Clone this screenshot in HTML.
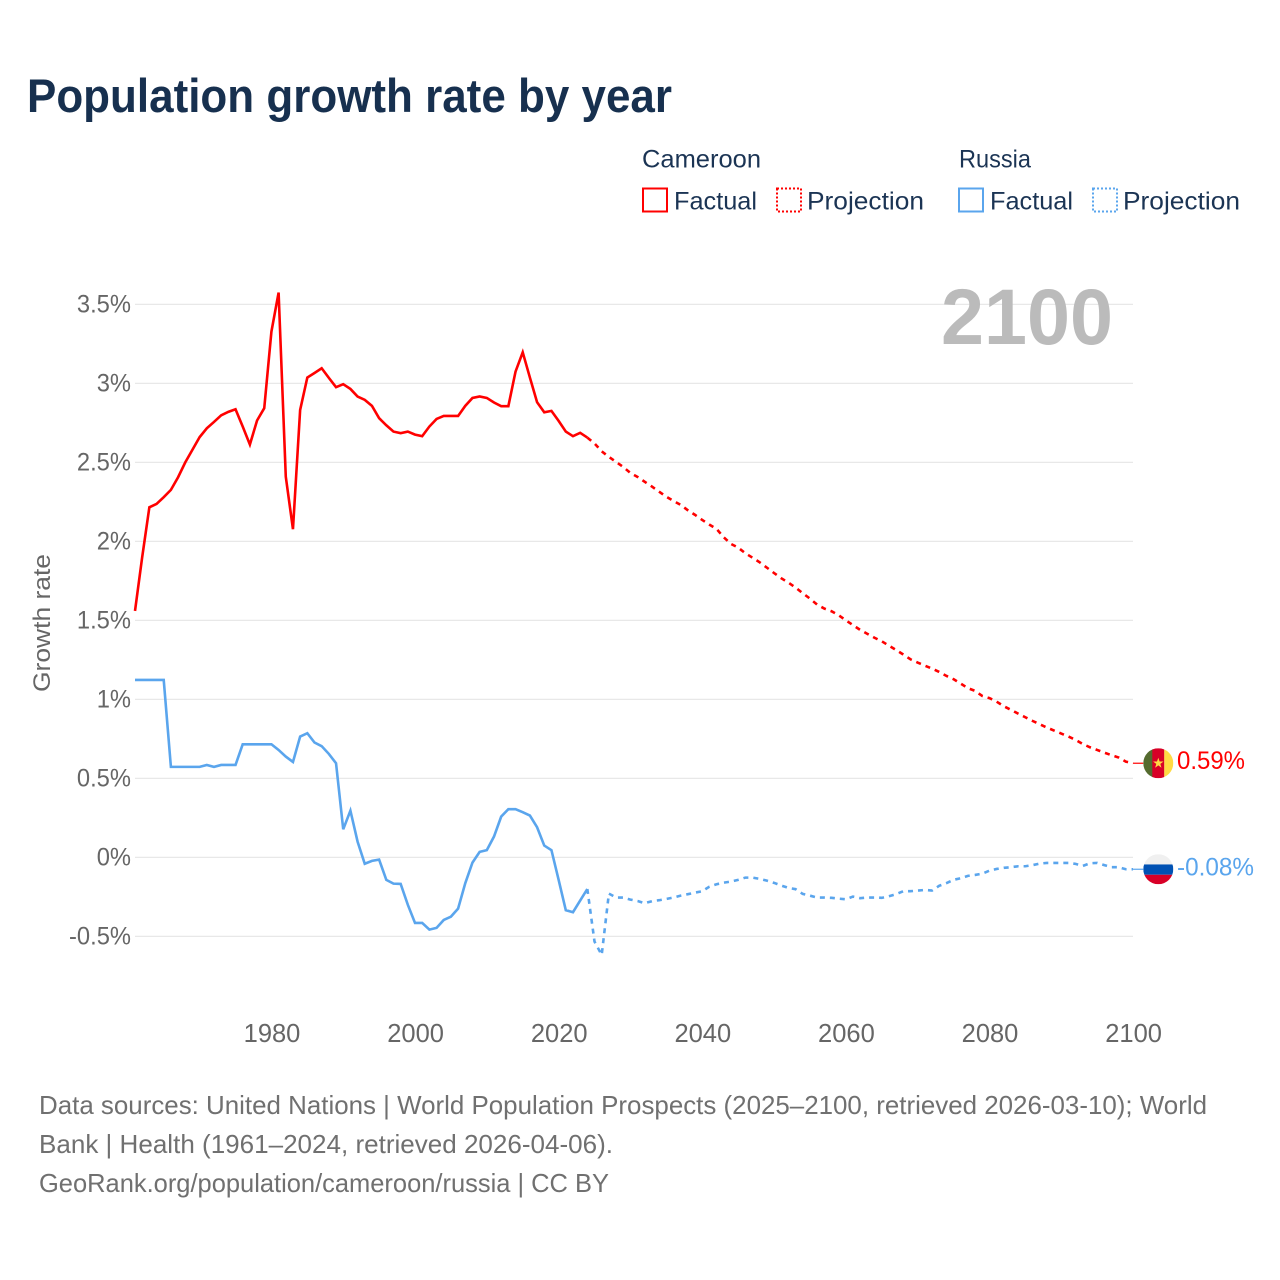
<!DOCTYPE html>
<html lang="en">
<head>
<meta charset="utf-8">
<title>Population growth rate by year</title>
<style>
html,body{margin:0;padding:0;background:#fff;}
body{width:1280px;height:1280px;overflow:hidden;}
svg{display:block;font-family:"Liberation Sans",sans-serif;}
</style>
</head>
<body>
<svg id="chart" xmlns="http://www.w3.org/2000/svg" width="1280" height="1280" viewBox="0 0 1280 1280">
  <defs>
    <clipPath id="clip-flag-cm"><circle cx="0" cy="0" r="15"/></clipPath>
    <clipPath id="clip-flag-ru"><circle cx="0" cy="0" r="15"/></clipPath>
  </defs>
  <rect width="1280" height="1280" fill="#ffffff"/>
  <text x="27" y="112" font-size="47" font-weight="700" fill="#17304f" textLength="645" lengthAdjust="spacingAndGlyphs">Population growth rate by year</text>

  <g font-size="25" fill="#1b3454">
    <text x="642" y="167.500" textLength="119" lengthAdjust="spacingAndGlyphs">Cameroon</text>
    <text x="959" y="167.500" textLength="72" lengthAdjust="spacingAndGlyphs">Russia</text>
    <g>
      <rect x="643" y="188.500" width="24" height="23" fill="none" stroke="#ff0000" stroke-width="2"/>
      <text x="674" y="209.500" textLength="83" lengthAdjust="spacingAndGlyphs">Factual</text>
    </g>
    <g>
      <rect x="777" y="188.500" width="24" height="23" fill="none" stroke="#ff0000" stroke-width="2" stroke-dasharray="2,2"/>
      <text x="807" y="209.500" textLength="117" lengthAdjust="spacingAndGlyphs">Projection</text>
    </g>
    <g>
      <rect x="959" y="188.500" width="24" height="23" fill="none" stroke="#5aa5ed" stroke-width="2"/>
      <text x="990" y="209.500" textLength="83" lengthAdjust="spacingAndGlyphs">Factual</text>
    </g>
    <g>
      <rect x="1093" y="188.500" width="24" height="23" fill="none" stroke="#5aa5ed" stroke-width="2" stroke-dasharray="2,2"/>
      <text x="1123" y="209.500" textLength="117" lengthAdjust="spacingAndGlyphs">Projection</text>
    </g>
  </g>

  <g id="grid"></g>
  <g id="y-ticks" font-size="25" fill="#666666" text-anchor="end"></g>
  <g id="x-ticks" font-size="25.500" fill="#666666" text-anchor="middle"></g>
  <text transform="translate(50,623) rotate(-90)" font-size="24.500" fill="#666666" text-anchor="middle" textLength="138" lengthAdjust="spacingAndGlyphs">Growth rate</text>
  <text x="941" y="344" font-size="79" font-weight="700" fill="#bbbbbb" textLength="172" lengthAdjust="spacingAndGlyphs">2100</text>

  <g id="series"></g>

  <g id="end-markers"></g>

  <g font-size="26" fill="#707070">
    <text x="39" y="1114" textLength="1168" lengthAdjust="spacingAndGlyphs">Data sources: United Nations | World Population Prospects (2025–2100, retrieved 2026-03-10); World</text>
    <text x="39" y="1153" textLength="574" lengthAdjust="spacingAndGlyphs">Bank | Health (1961–2024, retrieved 2026-04-06).</text>
    <text x="39" y="1192" textLength="570" lengthAdjust="spacingAndGlyphs">GeoRank.org/population/cameroon/russia | CC BY</text>
  </g>
</svg>

<script>
const factualStartYear = 1961;
const projectionStartYear = 2024;
const yTickValues = [3.5, 3, 2.5, 2, 1.5, 1, 0.5, 0, -0.5];
const yTickLabels = ["3.5%", "3%", "2.5%", "2%", "1.5%", "1%", "0.5%", "0%", "-0.5%"];
const xTickValues = [1980, 2000, 2020, 2040, 2060, 2080, 2100];
const xTickLabels = ["1980", "2000", "2020", "2040", "2060", "2080", "2100"];

const cameroonFactual = [
  1.56, 1.9, 2.216, 2.237, 2.28, 2.326, 2.406, 2.5, 2.58, 2.66,
  2.716, 2.756, 2.798, 2.82, 2.836, 2.727, 2.613, 2.765, 2.843, 3.328,
  3.575, 2.41, 2.077, 2.832, 3.037, 3.066, 3.096, 3.035, 2.976, 2.995,
  2.965, 2.917, 2.896, 2.858, 2.78, 2.735, 2.695, 2.685, 2.695, 2.676,
  2.666, 2.727, 2.775, 2.794, 2.794, 2.794, 2.858, 2.908, 2.917, 2.908,
  2.879, 2.856, 2.856, 3.075, 3.197, 3.037, 2.881, 2.817, 2.826, 2.763,
  2.695, 2.666, 2.687, 2.657
];
const cameroonProjection = [
  2.657, 2.62, 2.57, 2.535, 2.503, 2.471, 2.433, 2.408, 2.377, 2.347,
  2.315, 2.283, 2.256, 2.231, 2.197, 2.168, 2.136, 2.106, 2.079, 2.026,
  1.984, 1.961, 1.925, 1.897, 1.868, 1.834, 1.8, 1.767, 1.739, 1.708,
  1.672, 1.638, 1.6, 1.575, 1.558, 1.533, 1.501, 1.47, 1.44, 1.415,
  1.39, 1.368, 1.34, 1.313, 1.284, 1.254, 1.233, 1.214, 1.195, 1.174,
  1.149, 1.128, 1.1, 1.071, 1.054, 1.022, 1.008, 0.986, 0.957, 0.934,
  0.91, 0.887, 0.864, 0.843, 0.822, 0.803, 0.784, 0.765, 0.744, 0.718,
  0.697, 0.68, 0.663, 0.647, 0.632, 0.606, 0.596
];
const russiaFactual = [
  1.123, 1.123, 1.123, 1.123, 1.123, 0.573, 0.573, 0.573, 0.573, 0.573,
  0.585, 0.573, 0.585, 0.585, 0.585, 0.716, 0.716, 0.716, 0.716, 0.716,
  0.68, 0.638, 0.604, 0.765, 0.786, 0.727, 0.704, 0.655, 0.596, 0.178,
  0.296, 0.1, -0.04, -0.022, -0.014, -0.142, -0.166, -0.168, -0.3, -0.415,
  -0.415, -0.457, -0.446, -0.396, -0.375, -0.324, -0.163, -0.033, 0.035, 0.046,
  0.132, 0.258, 0.305, 0.305, 0.286, 0.265, 0.191, 0.075, 0.046, -0.142,
  -0.334, -0.347, -0.273, -0.2
];
const russiaProjection = [
  -0.2, -0.533, -0.617, -0.229, -0.254, -0.254, -0.267, -0.276, -0.29, -0.277,
  -0.271, -0.263, -0.254, -0.242, -0.233, -0.223, -0.214, -0.185, -0.17, -0.16,
  -0.153, -0.142, -0.128, -0.128, -0.136, -0.147, -0.161, -0.178, -0.193, -0.201,
  -0.231, -0.242, -0.254, -0.254, -0.256, -0.261, -0.265, -0.248, -0.258, -0.254,
  -0.254, -0.256, -0.246, -0.233, -0.214, -0.214, -0.21, -0.206, -0.21, -0.18,
  -0.163, -0.142, -0.132, -0.117, -0.111, -0.103, -0.084, -0.073, -0.066, -0.062,
  -0.056, -0.056, -0.049, -0.039, -0.035, -0.035, -0.035, -0.035, -0.041, -0.054,
  -0.037, -0.035, -0.049, -0.062, -0.062, -0.075, -0.075
];
const cameroonEndLabel = "0.59%";
const russiaEndLabel = "-0.08%";

const NS = 'http://www.w3.org/2000/svg';
const RED = '#ff0000';
const BLUE = '#5aa5ed';

function xScale(year) { return 135 + (year - 1961) * 7.18; }
function yScale(value) { return 857.4 - 158 * value; }

function make(tag, attrs, parent) {
  const el = document.createElementNS(NS, tag);
  for (const k in attrs) el.setAttribute(k, attrs[k]);
  parent.appendChild(el);
  return el;
}

function linePoints(values, startYear) {
  return values.map(function (v, i) {
    return xScale(startYear + i).toFixed(2) + ',' + yScale(v).toFixed(2);
  }).join(' ');
}

const gridLayer = document.getElementById('grid');
const yLayer = document.getElementById('y-ticks');
yTickValues.forEach(function (v, i) {
  const line = make('line', { x1: 135, x2: 1133, y1: yScale(v), y2: yScale(v), stroke: '#e8e8e8', 'stroke-width': 1.2 }, gridLayer);
  
  
  const label = make('text', { x: 131, y: yScale(v) + 8 }, yLayer);
  
  
  label.textContent = yTickLabels[i];
  label.setAttribute('textLength', (label.getComputedTextLength() * 0.95).toFixed(1));
  label.setAttribute('lengthAdjust', 'spacingAndGlyphs');
});

const xLayer = document.getElementById('x-ticks');
xTickValues.forEach(function (year, i) {
  const label = make('text', { x: xScale(year) + 0.6, y: 1042 }, xLayer);
  
  
  label.textContent = xTickLabels[i];
});

const seriesLayer = document.getElementById('series');

const lineCameroonFactual = make('polyline', { points: linePoints(cameroonFactual, factualStartYear), fill: 'none', stroke: RED, 'stroke-width': 2.6, 'stroke-linejoin': 'miter' }, seriesLayer);



const lineCameroonProjection = make('polyline', { points: linePoints(cameroonProjection, projectionStartYear), fill: 'none', stroke: RED, 'stroke-width': 2.6, 'stroke-dasharray': '5,5' }, seriesLayer);



const lineRussiaFactual = make('polyline', { points: linePoints(russiaFactual, factualStartYear), fill: 'none', stroke: BLUE, 'stroke-width': 2.6 }, seriesLayer);



const lineRussiaProjection = make('polyline', { points: linePoints(russiaProjection, projectionStartYear), fill: 'none', stroke: BLUE, 'stroke-width': 2.6, 'stroke-dasharray': '5,5' }, seriesLayer);



const markerLayer = document.getElementById('end-markers');
const endX = xScale(2100);
const flagX = 1158.3;

/* Cameroon end marker */
const cmY = yScale(cameroonProjection[cameroonProjection.length - 1]);
const cmLink = make('line', { x1: endX, x2: flagX - 15, y1: cmY, y2: cmY, stroke: RED, 'stroke-width': 1.2 }, markerLayer);


const cmFlag = make('g', { transform: 'translate(' + flagX + ',' + cmY + ')', 'clip-path': 'url(#clip-flag-cm)' }, markerLayer);


make('rect', { x: -15, y: -15, width: 9.5, height: 30, fill: '#556b2f' }, cmFlag);
make('rect', { x: -6, y: -15, width: 12, height: 30, fill: '#d80027' }, cmFlag);
make('rect', { x: 6, y: -15, width: 9, height: 30, fill: '#ffda44' }, cmFlag);
make('polygon', { points: '0,-5.5 1.3,-1.7 5.2,-1.7 2,0.7 3.2,4.5 0,2.2 -3.2,4.5 -2,0.7 -5.2,-1.7 -1.3,-1.7', fill: '#ffda44' }, cmFlag);
const cmLabel = make('text', { x: 1177, y: cmY + 6, 'font-size': 25, fill: RED, textLength: 68, lengthAdjust: 'spacingAndGlyphs' }, markerLayer);


cmLabel.textContent = cameroonEndLabel;

/* Russia end marker */
const ruY = yScale(russiaProjection[russiaProjection.length - 1]);
const ruLink = make('line', { x1: endX, x2: flagX - 15, y1: ruY, y2: ruY, stroke: BLUE, 'stroke-width': 1.2 }, markerLayer);


const ruFlag = make('g', { transform: 'translate(' + flagX + ',' + ruY + ')', 'clip-path': 'url(#clip-flag-ru)' }, markerLayer);


make('rect', { x: -15, y: -15, width: 30, height: 10.2, fill: '#f0f0f0' }, ruFlag);
make('rect', { x: -15, y: -4.8, width: 30, height: 10.3, fill: '#0052b4' }, ruFlag);
make('rect', { x: -15, y: 5.5, width: 30, height: 9.5, fill: '#d80027' }, ruFlag);
const ruLabel = make('text', { x: 1177, y: ruY + 6, 'font-size': 25, fill: BLUE, textLength: 77, lengthAdjust: 'spacingAndGlyphs' }, markerLayer);


ruLabel.textContent = russiaEndLabel;
</script>
</body>
</html>
